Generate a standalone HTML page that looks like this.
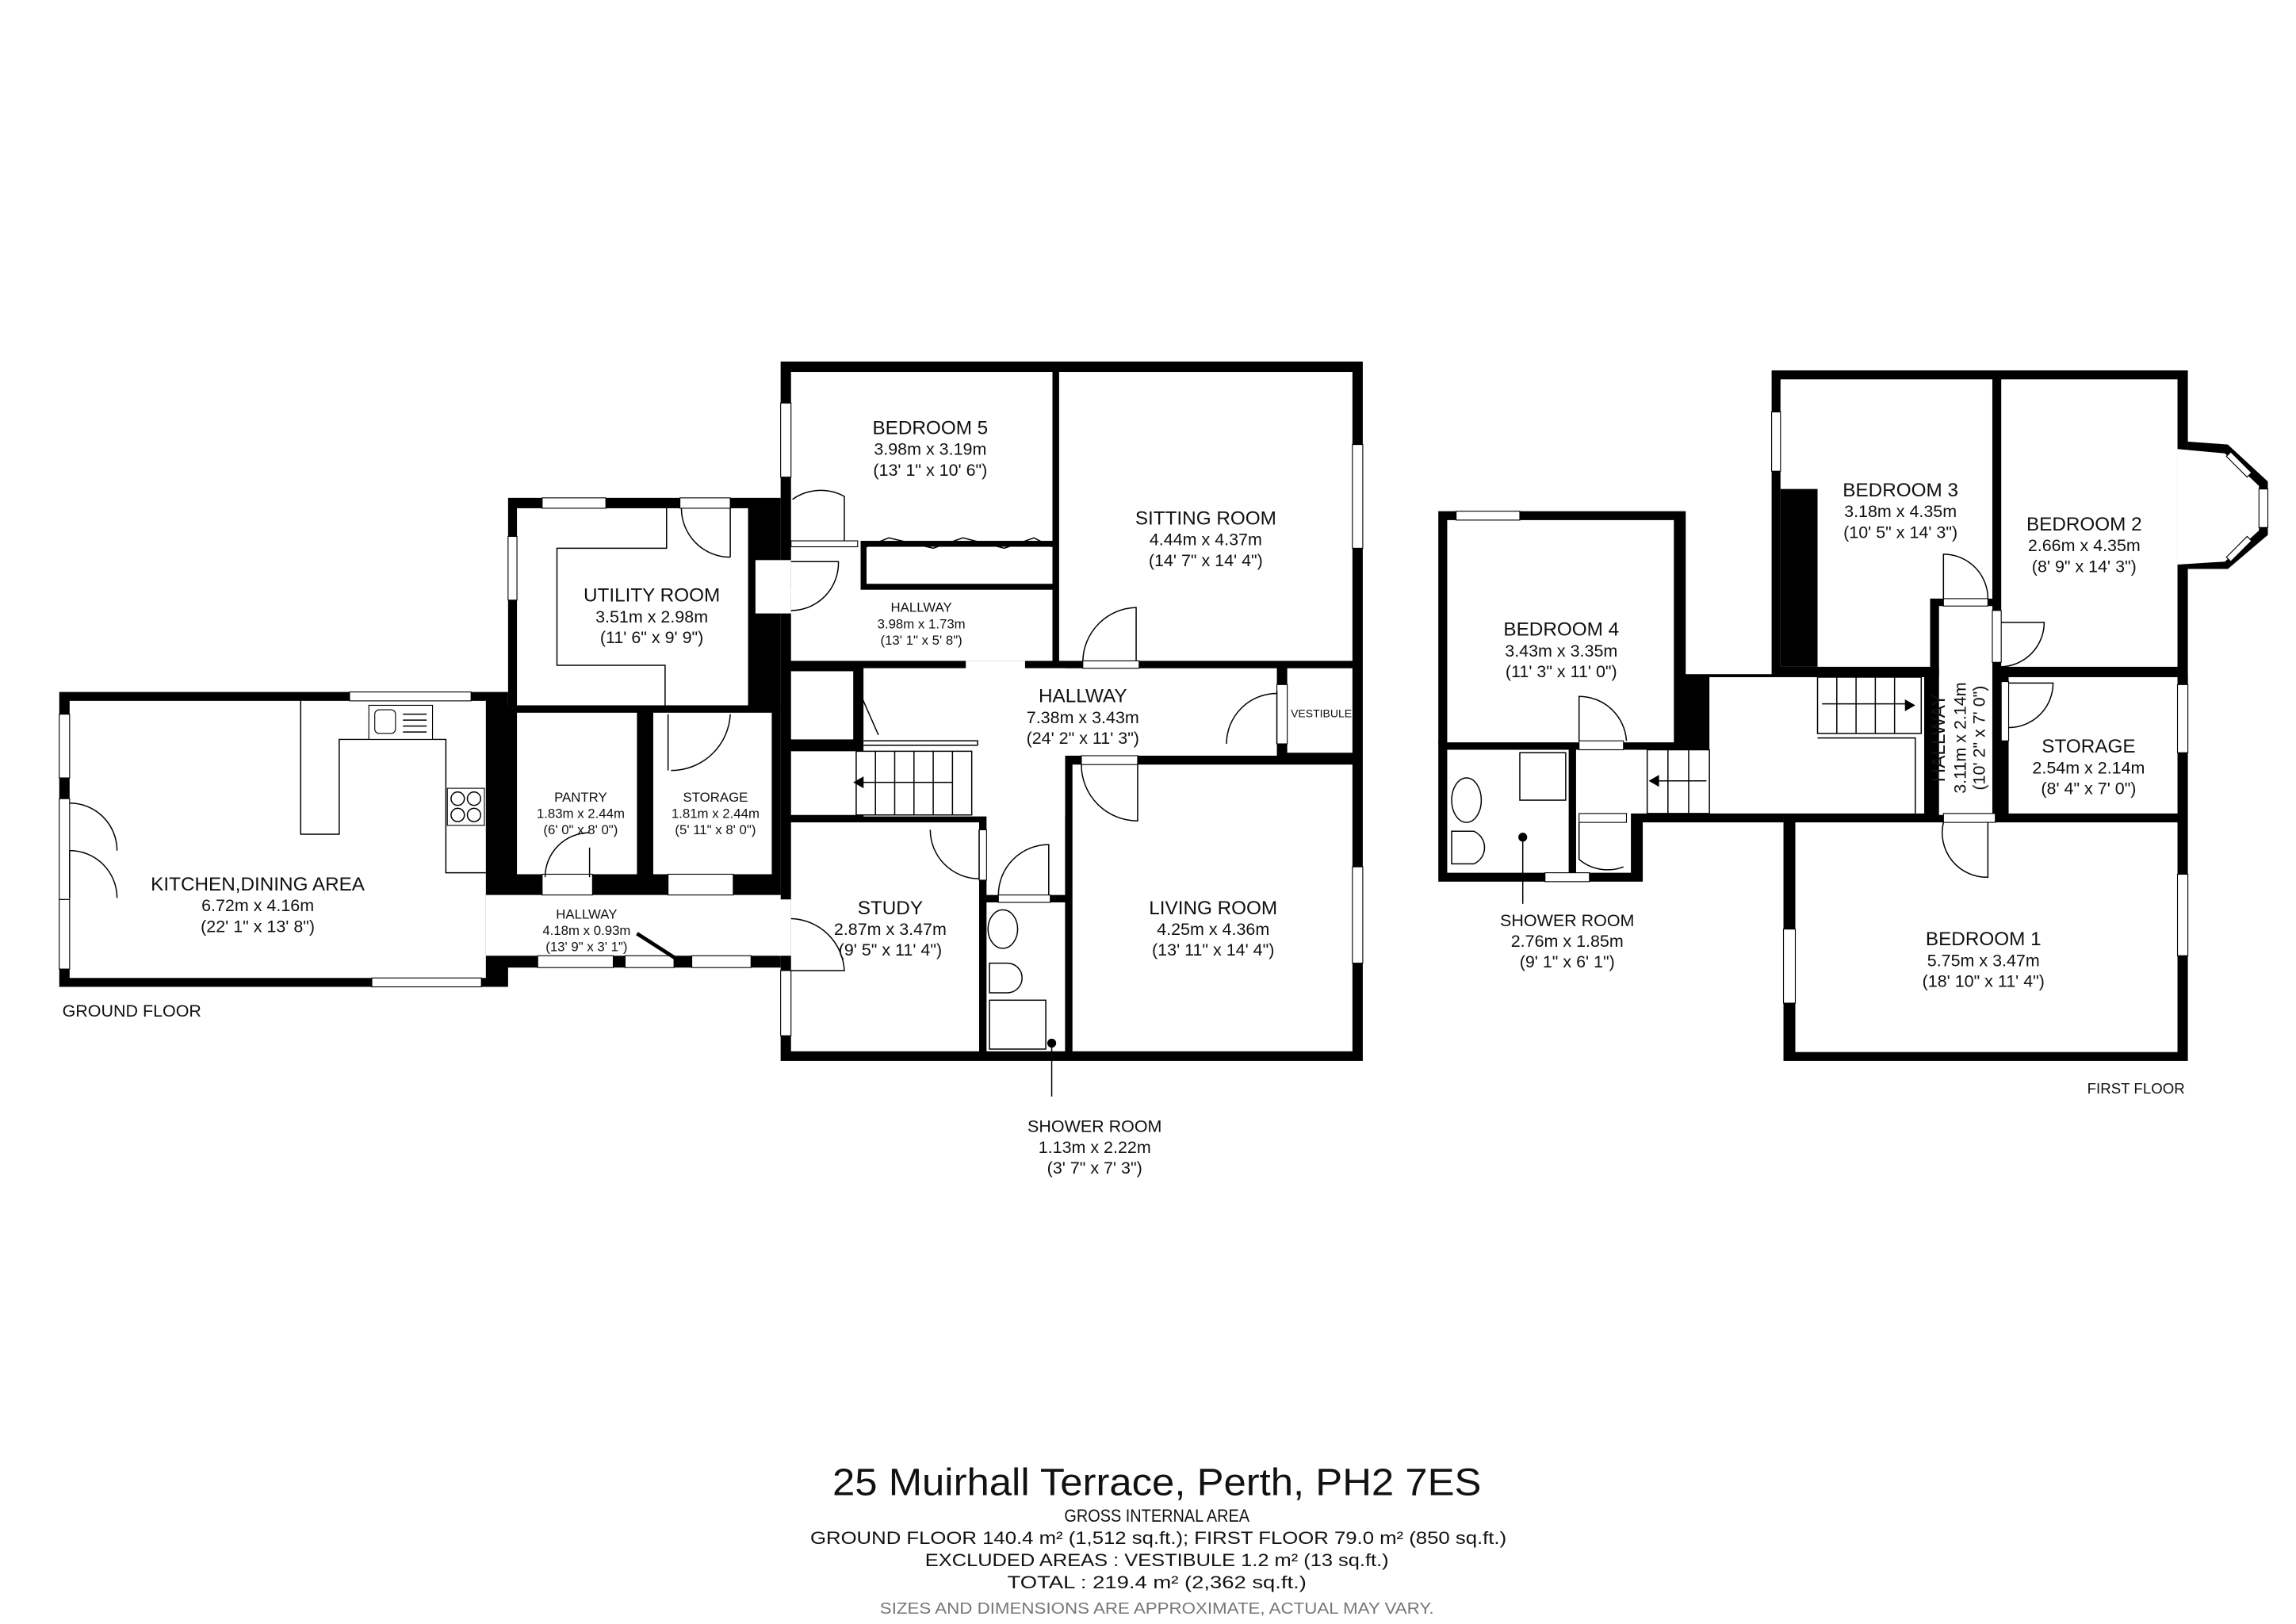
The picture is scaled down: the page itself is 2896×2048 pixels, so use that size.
<!DOCTYPE html>
<html><head><meta charset="utf-8"><style>
html,body{margin:0;padding:0;background:#fff;}
svg{display:block}
text{font-family:"Liberation Sans","DejaVu Sans",sans-serif;fill:#111;text-anchor:middle}
.n{font-size:13px}.d{font-size:11.5px}.s{font-size:9px}
.ln{fill:none;stroke:#000;stroke-width:0.8}
.w{fill:#fff;stroke:#000;stroke-width:0.6}
</style></head><body>
<svg width="2896" height="2048" viewBox="0 0 1550 1096" preserveAspectRatio="none" xmlns="http://www.w3.org/2000/svg">
<rect width="1550" height="1096" fill="#fff"/>
<!-- GROUND FLOOR black masses -->
<g fill="#000">
<rect x="527" y="244" width="393" height="472"/>
<rect x="343" y="336" width="184" height="145"/>
<rect x="328" y="476" width="199" height="128"/>
<rect x="40" y="467" width="303" height="199"/>
<rect x="334" y="600" width="193" height="53"/>
</g>
<g fill="#fff">
<!-- main block -->
<rect x="534" y="251" width="176.5" height="114"/>
<rect x="534" y="365" width="47" height="35"/>
<rect x="585" y="369" width="125.5" height="25"/>
<rect x="534" y="398" width="176.5" height="48"/>
<rect x="715" y="251" width="198" height="195"/>
<rect x="652" y="446" width="40" height="6"/>
<rect x="583" y="451" width="279" height="59"/>
<rect x="583" y="451" width="136" height="100"/>
<rect x="666" y="509" width="53" height="95"/>
<rect x="534" y="453" width="42" height="46"/>
<rect x="534" y="507" width="122" height="43"/>
<rect x="869" y="451" width="44" height="57"/>
<rect x="724" y="516" width="189" height="193.5"/>
<rect x="534" y="555" width="127" height="154.5"/>
<rect x="666" y="609" width="53" height="100.5"/>
<rect x="510" y="378" width="24" height="36"/>
<!-- utility etc -->
<rect x="349" y="343" width="156" height="133"/>
<rect x="349" y="481" width="81" height="109"/>
<rect x="441" y="481" width="80" height="109"/>
<rect x="47" y="473" width="281" height="187"/>
<rect x="328" y="604" width="199" height="41"/>
<rect x="525" y="607" width="9" height="38"/>
</g>
<!-- door / window gaps ground -->
<g class="w">
<rect x="527" y="272" width="7" height="50"/>
<rect x="913" y="300" width="7" height="70"/>
<rect x="913" y="585" width="7" height="65"/>
<rect x="527" y="655" width="7" height="44"/>
<rect x="366" y="336" width="43" height="7"/>
<rect x="343" y="362" width="6" height="43"/>
<rect x="236" y="467" width="82" height="6"/>
<rect x="40" y="482" width="7" height="43"/>
<rect x="40" y="607" width="7" height="47"/>
<rect x="40" y="539" width="7" height="68"/>
<rect x="251" y="660" width="74" height="6"/>
<rect x="363" y="645" width="51" height="8"/>
<rect x="422" y="645" width="33" height="8"/>
<rect x="467" y="645" width="40" height="8"/>
<rect x="459" y="336" width="34" height="7"/>
<rect x="366" y="590" width="34" height="14"/>
<rect x="451" y="590" width="44" height="14"/>
<rect x="674" y="604" width="35" height="5"/>
<rect x="730" y="510" width="38" height="6"/>
<rect x="731" y="446" width="38" height="5"/>
<rect x="862" y="462" width="7" height="40"/>
<rect x="661" y="560" width="5" height="34"/>
<rect x="534" y="365" width="45" height="4"/>
</g>
<!-- counter, kitchen fittings -->
<polyline class="ln" points="450,343 450,370 376,370 376,449 449,449 449,476"/>
<polyline class="ln" points="203,473 203,563 229,563 229,499 301,499 301,589 328,589"/>
<rect class="w" x="249" y="476" width="43" height="23"/>
<rect class="w" x="253" y="479" width="14" height="16" rx="3"/>
<g class="ln"><line x1="272" y1="482" x2="288" y2="482"/><line x1="272" y1="486" x2="288" y2="486"/><line x1="272" y1="490" x2="288" y2="490"/><line x1="272" y1="494" x2="288" y2="494"/></g>
<rect class="w" x="302" y="532" width="25" height="25"/>
<g class="ln"><circle cx="309" cy="539" r="4.5"/><circle cx="320" cy="539" r="4.5"/><circle cx="309" cy="550" r="4.5"/><circle cx="320" cy="550" r="4.5"/></g>
<!-- door arcs ground -->
<g class="ln">
<path d="M47,542 A32,32 0 0 1 79,574 M47,574 L47,606 M47,574 A32,32 0 0 1 79,606"/>
<path d="M493,343 L493,376 M460,343 A33,33 0 0 0 493,376"/>
<path d="M398,572 L398,592 M368,592 A30,30 0 0 1 398,562"/>
<path d="M451,482 L451,520 M493,482 A40,40 0 0 1 453,520"/>
<path d="M535,337 A33,33 0 0 1 570,335 L570,365" />
<path d="M534,412 A32,32 0 0 0 566,379 L534,379"/>
<path d="M731,446 A37,37 0 0 1 767,410 L767,446"/>
<path d="M862,502 A34,34 0 0 1 896,468" transform="translate(-34,0)"/>
<path d="M862,466 L862,502"/>
<path d="M730,516 A38,38 0 0 0 768,554 L768,516"/>
<path d="M628,560 A33,33 0 0 0 661,593 L661,560"/>
<path d="M674,604 A34,34 0 0 1 708,570 L708,604"/>
<path d="M534,620 A37,37 0 0 1 570,655 L534,655"/>
<line x1="578" y1="462" x2="593" y2="496"/>
<line x1="430" y1="630" x2="458" y2="648" stroke-width="2.5"/>
<polyline points="583,500 660,500 660,503"/>
<line x1="583" y1="503" x2="660" y2="503"/>
<rect x="578" y="507" width="78" height="43"/>
<line x1="591" y1="507" x2="591" y2="550"/><line x1="604" y1="507" x2="604" y2="550"/><line x1="617" y1="507" x2="617" y2="550"/><line x1="630" y1="507" x2="630" y2="550"/><line x1="643" y1="507" x2="643" y2="550"/>
<line x1="580" y1="528" x2="643" y2="528"/>
<polyline points="585,369 600,363 630,370 650,363 678,370 698,363 710,369"/>
<ellipse cx="677" cy="627" rx="10" ry="13"/>
<path d="M668,650 L680,650 A10,10 0 0 1 680,670 L668,670 Z"/>
<rect x="668" y="675" width="38" height="33"/>
<line x1="710" y1="704" x2="710" y2="740"/>
</g>
<circle cx="710" cy="704" r="3" fill="#000"/>
<polygon points="576,528 583,524 583,532" fill="#000"/>

<!-- FIRST FLOOR -->
<g fill="#000">
<rect x="971" y="345" width="167" height="157"/>
<rect x="971" y="500" width="138" height="95"/>
<rect x="1059" y="455" width="145" height="100"/>
<rect x="1196" y="250" width="281" height="212"/>
<rect x="1204" y="455" width="273" height="261"/>
<polygon points="1477,298 1504,300 1531,325 1531,361 1504,384 1477,384"/>
</g>
<g fill="#fff">
<rect x="977" y="351" width="153" height="150"/>
<rect x="977" y="506" width="82" height="83"/>
<rect x="1064" y="506" width="37" height="43"/>
<rect x="1064" y="506" width="90" height="43"/>
<rect x="1154" y="457" width="145" height="92"/>
<rect x="1202" y="256" width="143" height="194"/>
<rect x="1309" y="409" width="36" height="141"/>
<rect x="1351" y="256" width="119" height="194"/>
<polygon points="1470,303 1502,306 1525,328 1525,358 1502,379 1470,381"/>
<rect x="1356" y="457" width="114" height="92"/>
<rect x="1212" y="555" width="258" height="155"/>
<rect x="1064" y="549" width="37" height="40"/>
</g>
<rect x="1202" y="330" width="25" height="120" fill="#000"/>
<rect x="1303" y="404" width="6" height="53" fill="#000"/>
<rect x="1303" y="404" width="42" height="5" fill="#000"/>
<g class="w">
<rect x="983" y="345" width="43" height="6"/>
<rect x="1196" y="278" width="6" height="40"/>
<rect x="1043" y="589" width="30" height="6"/>
<rect x="1470" y="462" width="7" height="46"/>
<rect x="1470" y="590" width="7" height="55"/>
<rect x="1204" y="627" width="8" height="50"/>
<rect x="1312" y="404" width="30" height="5"/>
<rect x="1345" y="412" width="6" height="35"/>
<rect x="1351" y="460" width="5" height="40"/>
<rect x="1312" y="549" width="35" height="6"/>
<rect x="1066" y="500" width="30" height="6"/>
<rect x="1066" y="549" width="32" height="6"/>
<polygon points="1506,305 1520,319 1517,322 1503,308"/>
<rect x="1525" y="330" width="6" height="26"/>
<polygon points="1503,376 1517,362 1520,365 1506,379"/>
</g>
<g class="ln">
<path d="M1312,404 L1312,374 A30,30 0 0 1 1342,404"/>
<path d="M1351,420 L1380,420 A30,30 0 0 1 1351,450"/>
<path d="M1356,461 L1386,461 A30,30 0 0 1 1356,491"/>
<path d="M1342,555 L1342,592 A30,30 0 0 1 1312,555"/>
<path d="M1066,500 L1066,470 A32,32 0 0 1 1098,500"/>
<path d="M1066,555 L1066,580 A30,30 0 0 0 1096,585"/>
<rect x="1227" y="457" width="70" height="38"/>
<line x1="1240" y1="457" x2="1240" y2="495"/><line x1="1253" y1="457" x2="1253" y2="495"/><line x1="1266" y1="457" x2="1266" y2="495"/><line x1="1279" y1="457" x2="1279" y2="495"/>
<line x1="1230" y1="475" x2="1290" y2="475"/>
<polyline points="1227,498 1293,498 1293,549"/>
<rect x="1112" y="506" width="42" height="43"/>
<line x1="1126" y1="506" x2="1126" y2="549"/><line x1="1140" y1="506" x2="1140" y2="549"/>
<line x1="1118" y1="527" x2="1152" y2="527"/>
<rect x="1026" y="508" width="31" height="32"/>
<ellipse cx="990" cy="540" rx="10" ry="15"/>
<path d="M980,561 L995,561 A12,12 0 0 1 995,583 L980,583 Z"/>
<line x1="1028" y1="565" x2="1028" y2="610"/>
</g>
<circle cx="1028" cy="565" r="3" fill="#000"/>
<polygon points="1293,476 1286,472 1286,480" fill="#000"/>
<polygon points="1113,527 1120,523 1120,531" fill="#000"/>

<!-- labels -->
<text class="n" x="628" y="293">BEDROOM 5</text><text class="d" x="628" y="307">3.98m x 3.19m</text><text class="d" x="628" y="321">(13' 1" x 10' 6")</text>
<text class="n" x="814" y="354">SITTING ROOM</text><text class="d" x="814" y="368">4.44m x 4.37m</text><text class="d" x="814" y="382">(14' 7" x 14' 4")</text>
<text class="n" x="440" y="406">UTILITY ROOM</text><text class="d" x="440" y="420">3.51m x 2.98m</text><text class="d" x="440" y="434">(11' 6" x 9' 9")</text>
<text class="s" x="622" y="413">HALLWAY</text><text class="s" x="622" y="424">3.98m x 1.73m</text><text class="s" x="622" y="435">(13' 1" x 5' 8")</text>
<text class="n" x="731" y="474">HALLWAY</text><text class="d" x="731" y="488">7.38m x 3.43m</text><text class="d" x="731" y="502">(24' 2" x 11' 3")</text>
<text x="892" y="484" style="font-size:7.5px">VESTIBULE</text>
<text class="s" x="392" y="541">PANTRY</text><text class="s" x="392" y="552">1.83m x 2.44m</text><text class="s" x="392" y="563">(6' 0" x 8' 0")</text>
<text class="s" x="483" y="541">STORAGE</text><text class="s" x="483" y="552">1.81m x 2.44m</text><text class="s" x="483" y="563">(5' 11" x 8' 0")</text>
<text class="n" x="174" y="601">KITCHEN,DINING AREA</text><text class="d" x="174" y="615">6.72m x 4.16m</text><text class="d" x="174" y="629">(22' 1" x 13' 8")</text>
<text class="s" x="396" y="620">HALLWAY</text><text class="s" x="396" y="631">4.18m x 0.93m</text><text class="s" x="396" y="642">(13' 9" x 3' 1")</text>
<text class="n" x="601" y="617">STUDY</text><text class="d" x="601" y="631">2.87m x 3.47m</text><text class="d" x="601" y="645">(9' 5" x 11' 4")</text>
<text class="n" x="819" y="617">LIVING ROOM</text><text class="d" x="819" y="631">4.25m x 4.36m</text><text class="d" x="819" y="645">(13' 11" x 14' 4")</text>
<text class="d" x="739" y="764">SHOWER ROOM</text><text class="d" x="739" y="778">1.13m x 2.22m</text><text class="d" x="739" y="792">(3' 7" x 7' 3")</text>
<text class="d" x="89" y="686">GROUND FLOOR</text>

<text class="n" x="1283" y="335">BEDROOM 3</text><text class="d" x="1283" y="349">3.18m x 4.35m</text><text class="d" x="1283" y="363">(10' 5" x 14' 3")</text>
<text class="n" x="1407" y="358">BEDROOM 2</text><text class="d" x="1407" y="372">2.66m x 4.35m</text><text class="d" x="1407" y="386">(8' 9" x 14' 3")</text>
<text class="n" x="1054" y="429">BEDROOM 4</text><text class="d" x="1054" y="443">3.43m x 3.35m</text><text class="d" x="1054" y="457">(11' 3" x 11' 0")</text>
<text class="n" x="1410" y="508">STORAGE</text><text class="d" x="1410" y="522">2.54m x 2.14m</text><text class="d" x="1410" y="536">(8' 4" x 7' 0")</text>
<g transform="translate(1327,498) rotate(-90)"><text class="n" x="0" y="-14">HALLWAY</text><text class="d" x="0" y="0">3.11m x 2.14m</text><text class="d" x="0" y="13">(10' 2" x 7' 0")</text></g>
<text class="n" x="1339" y="638">BEDROOM 1</text><text class="d" x="1339" y="652">5.75m x 3.47m</text><text class="d" x="1339" y="666">(18' 10" x 11' 4")</text>
<text class="d" x="1058" y="625">SHOWER ROOM</text><text class="d" x="1058" y="639">2.76m x 1.85m</text><text class="d" x="1058" y="653">(9' 1" x 6' 1")</text>
<text x="1442" y="738" style="font-size:10px">FIRST FLOOR</text>

<text x="781" y="1009" style="font-size:26px" textLength="438" lengthAdjust="spacingAndGlyphs">25 Muirhall Terrace, Perth, PH2 7ES</text>
<text x="781" y="1027" style="font-size:12px" textLength="125" lengthAdjust="spacingAndGlyphs">GROSS INTERNAL AREA</text>
<text x="782" y="1042" style="font-size:12px" textLength="470" lengthAdjust="spacingAndGlyphs">GROUND FLOOR 140.4 m² (1,512 sq.ft.); FIRST FLOOR 79.0 m² (850 sq.ft.)</text>
<text x="781" y="1057" style="font-size:12px" textLength="313" lengthAdjust="spacingAndGlyphs">EXCLUDED AREAS :  VESTIBULE 1.2 m² (13 sq.ft.)</text>
<text x="781" y="1072" style="font-size:12px" textLength="202" lengthAdjust="spacingAndGlyphs">TOTAL :  219.4 m² (2,362 sq.ft.)</text>
<text x="781" y="1089" style="font-size:11px;fill:#777" textLength="374" lengthAdjust="spacingAndGlyphs">SIZES AND DIMENSIONS ARE APPROXIMATE, ACTUAL MAY VARY.</text>
</svg>
</body></html>
